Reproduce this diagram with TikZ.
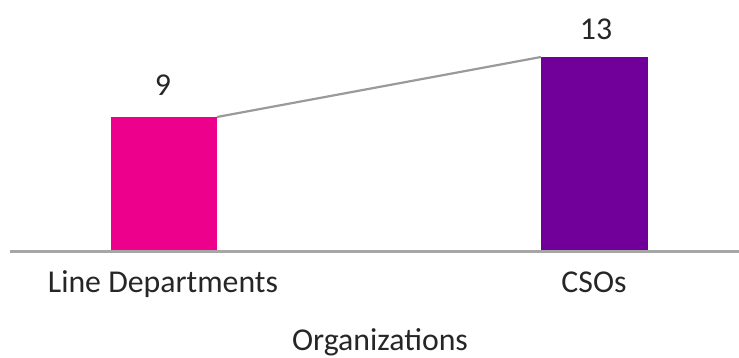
\documentclass[tikz,border=0pt]{standalone}
\usepackage{fontspec}
\setmainfont{Carlito}
\definecolor{barpink}{HTML}{EC008C}
\definecolor{barpurple}{HTML}{71009B}
\definecolor{axisgray}{HTML}{A6A6A6}
\definecolor{linegray}{HTML}{9A9A9A}
\definecolor{txt}{HTML}{262626}
\begin{document}
\begin{tikzpicture}[x=1pt,y=-1pt,
  lbl/.style={anchor=base,inner sep=0pt,text=txt,font=\fontsize{31.8}{38}\selectfont}]
\useasboundingbox (0,0) rectangle (739,358);
\fill[barpink] (111,117) rectangle (217,251);
\fill[barpurple] (541,57) rectangle (648,251);
\coordinate (p) at (217,117);
\coordinate (q) at (541,57);
\draw[linegray,line width=2.2pt] (p) -- (q);
\coordinate (a0) at (10,251.5);
\coordinate (a1) at (739,251.5);
\draw[axisgray,line width=2.2pt] (a0) -- (a1);
\node[lbl] (v1) at (163,96) {9};
\node[lbl] (v2) at (596,40) {13};
\node[lbl] (c1) at (163,292) {Line Departments};
\node[lbl] (c2) at (594,292) {CSOs};
\node[lbl] (t) at (380,350) {Organizations};
\end{tikzpicture}
\end{document}
